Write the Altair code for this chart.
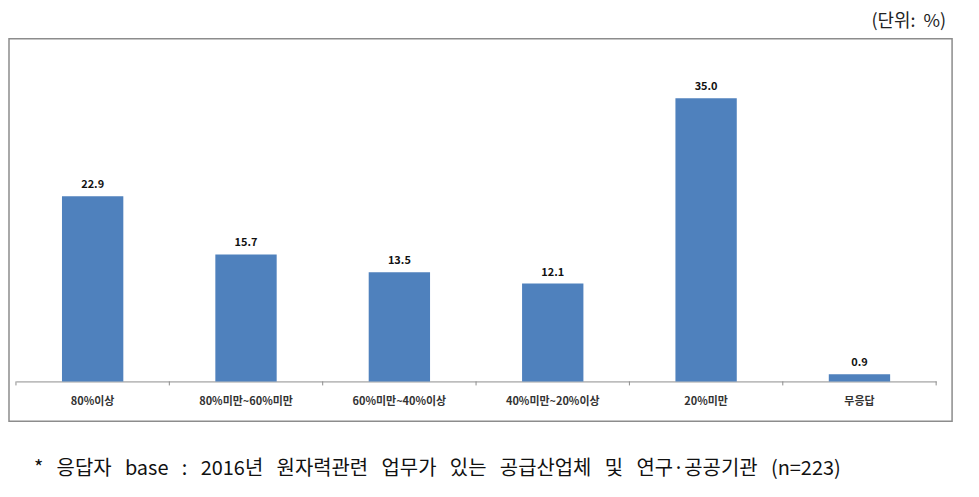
import altair as alt
import pandas as pd

categories = ["80%이상", "80%미만~60%미만", "60%미만~40%이상", "40%미만~20%이상", "20%미만", "무응답"]
values = [22.9, 15.7, 13.5, 12.1, 35.0, 0.9]
unit_text = "(단위:\u00a0\u00a0%)"
footnote_words = ["*", "응답자", "base", ":", "2016년", "원자력관련", "업무가", "있는", "공급산업체", "및", "연구·공공기관", "(n=223)"]
footnote_text = " \u00a0\u00a0".join(footnote_words)

df = pd.DataFrame({"category": categories, "value": values})
df["label"] = df["value"].map(lambda v: f"{v:.1f}")

FONT = "Noto Sans CJK KR"
W, H = 924, 325

xscale = alt.Scale(domain=categories, paddingInner=0, paddingOuter=0)
xaxis = alt.Axis(
    title=None,
    labelAngle=0,
    labelFont=FONT,
    labelFontSize=11,
    labelFontWeight="bold",
    labelColor="#333333",
    labelPadding=14,
    domainColor="#8c8c8c",
    ticks=False,
)
xenc = alt.X("category:N", sort=categories, scale=xscale, axis=xaxis)
yenc = alt.Y("value:Q", scale=alt.Scale(domain=[0, 40]), axis=None)

base = alt.Chart(df)

bars = base.mark_bar(color="#4F81BD", width=alt.RelativeBandSize(0.4)).encode(x=xenc, y=yenc)

labels = base.mark_text(
    font=FONT, fontSize=11, fontWeight="bold", color="#111111", baseline="bottom", dy=-6
).encode(x=xenc, y=yenc, text="label:N")

tick_df = pd.DataFrame({"category": categories})
ticks_start = alt.Chart(tick_df).mark_rule(color="#8c8c8c").encode(
    x=alt.X("category:N", sort=categories, scale=xscale, bandPosition=0, axis=xaxis),
    y=alt.value(H),
    y2=alt.value(H + 4),
)
ticks_end = alt.Chart(pd.DataFrame({"category": [categories[-1]]})).mark_rule(color="#8c8c8c").encode(
    x=alt.X("category:N", sort=categories, scale=xscale, bandPosition=1, axis=xaxis),
    y=alt.value(H),
    y2=alt.value(H + 4),
)

box = alt.Chart(pd.DataFrame({"a": [0]})).mark_rect(
    fill=None, stroke="#8c8c8c", strokeWidth=1.5
).encode(x=alt.value(-7), x2=alt.value(940), y=alt.value(-19), y2=alt.value(365))

foot = alt.Chart(pd.DataFrame({"t": [footnote_text]})).mark_text(
    font=FONT, fontSize=20, color="#111111", align="left", baseline="middle"
).encode(x=alt.value(18), y=alt.value(413), text="t:N")

chart = alt.layer(bars, labels, ticks_start, ticks_end, box, foot).properties(
    width=W,
    height=H,
    title=alt.TitleParams(
        unit_text, anchor="end", frame="group", font=FONT, fontSize=18,
        fontWeight="normal", color="#222222", offset=7, dx=10,
    ),
    autosize=alt.AutoSizeParams(type="none"),
    padding={"left": 8, "top": 49, "right": 35, "bottom": 100},
).configure_view(stroke=None)

chart.save("out.html", embed_options={"renderer": "svg", "actions": False})
